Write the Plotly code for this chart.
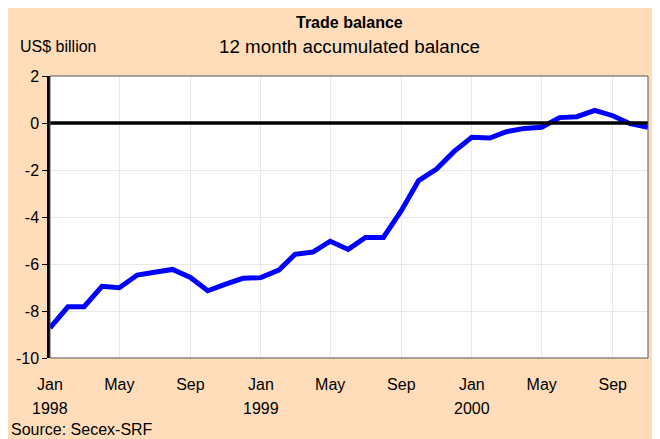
import pandas as pd
import plotly.graph_objects as go

# monthly, Jan 1998 - Nov 2000
months = pd.date_range("1998-01-01", "2000-11-01", freq="MS")
balance = [
    -8.72, -7.82, -7.82, -6.95, -7.01, -6.47, -6.35, -6.23, -6.57, -7.14, -6.86, -6.61,
    -6.58, -6.26, -5.59, -5.49, -5.03, -5.38, -4.87, -4.87, -3.73, -2.45, -1.96, -1.22,
    -0.61, -0.64, -0.37, -0.23, -0.18, 0.23, 0.27, 0.54, 0.31, -0.03, -0.18,
]

tick_dates = ["1998-01-01", "1998-05-01", "1998-09-01", "1999-01-01", "1999-05-01",
              "1999-09-01", "2000-01-01", "2000-05-01", "2000-09-01"]
tick_text = ["Jan", "May", "Sep", "Jan", "May", "Sep", "Jan", "May", "Sep"]
year_dates = ["1998-01-01", "1999-01-01", "2000-01-01"]
year_text = ["1998", "1999", "2000"]
y_ticks = [-10, -8, -6, -4, -2, 0, 2]
y_tick_text = ["-10", "-8", "-6", "-4", "-2", "0", "2"]

font = "Liberation Sans, Arial, sans-serif"
peach = "#FFDDBA"

fig = go.Figure()
fig.add_trace(go.Scatter(x=months, y=balance, mode="lines",
                         line=dict(color="#0000FF", width=5), hoverinfo="skip"))

# zero line
fig.add_hline(y=0, line=dict(color="black", width=3.5))

# plot frame
fig.add_shape(type="rect", xref="paper", yref="paper", x0=0, x1=1, y0=0, y1=1,
              line=dict(color="#555555", width=1), layer="above")

for d, t in zip(year_dates, year_text):
    fig.add_annotation(x=d, y=0, xref="x", yref="paper", yshift=-50, yanchor="middle",
                       text=t, showarrow=False, font=dict(family=font, size=16, color="black"))

fig.add_annotation(x=0.5, y=1.19, xref="paper", yref="paper", text="<b>Trade balance</b>",
                   showarrow=False, yanchor="middle", font=dict(family=font, size=16, color="black"))
fig.add_annotation(x=0.5, y=1.106, xref="paper", yref="paper", text="12 month accumulated balance",
                   showarrow=False, yanchor="middle", font=dict(family=font, size=18.8, color="black"))
fig.add_annotation(x=-0.054, y=1.103, xref="paper", yref="paper", text="US$ billion",
                   showarrow=False, xanchor="left", yanchor="middle",
                   font=dict(family=font, size=16, color="black"))
fig.add_annotation(x=-0.068, y=-0.255, xref="paper", yref="paper", text="Source: Secex-SRF",
                   showarrow=False, xanchor="left", yanchor="middle",
                   font=dict(family=font, size=16, color="black"))

fig.update_xaxes(range=["1998-01-01", "2000-11-01"], tickvals=tick_dates, ticktext=tick_text,
                 showgrid=True, gridcolor="#E8E8E8", gridwidth=1, zeroline=False, automargin=False,
                 ticks="", tickfont=dict(family=font, size=16, color="black"), ticklabelstandoff=15)
fig.update_yaxes(range=[-10, 2], tickvals=y_ticks, ticktext=y_tick_text,
                 showgrid=True, gridcolor="#E8E8E8", gridwidth=1,
                 zeroline=False, showline=True, linecolor="black", linewidth=2.5, automargin=False,
                 ticks="outside", ticklen=5, tickcolor="black",
                 tickfont=dict(family=font, size=16, color="black"))

# page body adds an 8px margin, so the figure is 8px smaller than the window
fig.update_layout(width=652, height=431, margin=dict(l=42, r=12, t=68, b=81),
                  paper_bgcolor=peach, plot_bgcolor="white", showlegend=False)

fig.write_html("out.html")
